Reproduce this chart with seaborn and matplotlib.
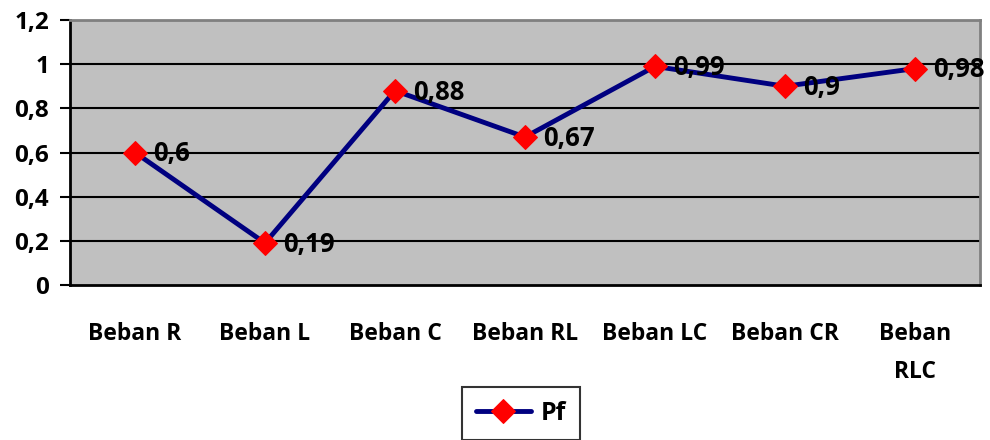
import matplotlib
matplotlib.use("Agg")
import matplotlib.pyplot as plt
import seaborn as sns
import pandas as pd

beban = ["Beban R", "Beban L", "Beban C", "Beban RL", "Beban LC", "Beban CR", "Beban\nRLC"]
pf = [0.6, 0.19, 0.88, 0.67, 0.99, 0.9, 0.98]
y_ticks = [0, 0.2, 0.4, 0.6, 0.8, 1.0, 1.2]

df = pd.DataFrame({"Beban": beban, "Pf": pf})

sns.set_style("white")
plt.rcParams["font.family"] = ["Open Sans", "DejaVu Sans"]
plt.rcParams["font.weight"] = "bold"
plt.rcParams["text.color"] = "black"
plt.rcParams["xtick.color"] = "black"
plt.rcParams["ytick.color"] = "black"

fs = 16.5

fig = plt.figure(figsize=(9.9, 4.4), dpi=100)
ax = fig.add_axes([70 / 990, 1 - 285 / 440, 910 / 990, 265 / 440])
ax.set_facecolor("#C0C0C0")

df["pos"] = range(len(beban))
sns.lineplot(x="pos", y="Pf", data=df, ax=ax, color="#000080", linewidth=3.5,
             marker="D", markersize=12, markerfacecolor="red", markeredgecolor="red",
             label="Pf", legend=False, zorder=5)

# label tiap titik
for i, v in enumerate(pf):
    txt = ("%g" % v).replace(".", ",")
    ax.annotate(txt, (i, v), xytext=(13, -1), textcoords="offset points",
                ha="left", va="center", fontsize=18.5, fontweight="bold", zorder=6)

ax.set_xlim(-0.5, len(beban) - 0.5)
ax.set_ylim(0, 1.2)
ax.set_yticks(y_ticks)
ax.set_yticklabels([("%g" % t).replace(".", ",") for t in y_ticks], fontsize=17.5, fontweight="bold")
for t in y_ticks[1:]:
    ax.axhline(t, color="black", linewidth=1.5, zorder=1)

ax.set_xticks(range(len(beban)))
ax.set_xticklabels(beban, fontsize=fs, fontweight="bold", linespacing=1.75)
ax.set_xticks([i - 0.5 for i in range(len(beban) + 1)], minor=True)
ax.tick_params(axis="x", which="major", length=0, pad=27)
ax.tick_params(axis="x", which="minor", length=7, width=1.5, direction="out", color="black")
ax.tick_params(axis="y", length=7, width=1.5, direction="out", color="black", left=True, pad=8)
ax.set_xlabel("")
ax.set_ylabel("")

for s in ["left", "bottom"]:
    ax.spines[s].set_color("black")
    ax.spines[s].set_linewidth(2)
for s in ["top", "right"]:
    ax.spines[s].set_color("#808080")
    ax.spines[s].set_linewidth(2)

h, l = ax.get_legend_handles_labels()
leg = fig.legend(h, l, loc="upper center", bbox_to_anchor=(521 / 990, 1 - 387 / 440),
                 frameon=True, fancybox=False, edgecolor="black", borderaxespad=0,
                 prop={"weight": "bold", "size": 18}, borderpad=0.55, handlelength=2.2,
                 handletextpad=0.4)
leg.get_frame().set_linewidth(1.5)

fig.savefig("out.png", dpi=100)
